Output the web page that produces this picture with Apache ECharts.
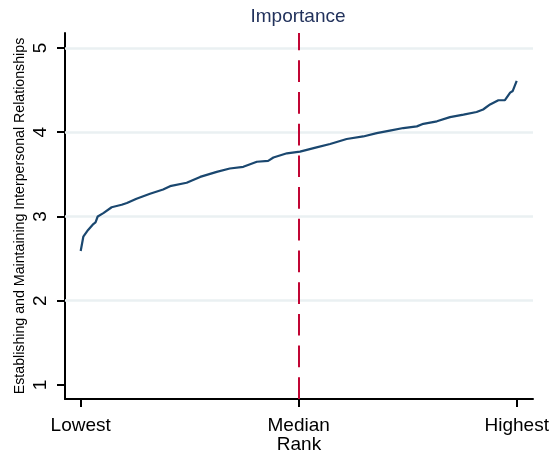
<!DOCTYPE html>
<html>
<head>
<meta charset="utf-8">
<script src="https://cdn.jsdelivr.net/npm/echarts@6/dist/echarts.min.js"></script>
<style>html,body{margin:0;padding:0;background:#fff}#c{width:554px;height:456px}</style>
</head>
<body>
<div id="c"></div>
<script>
// Rank percentile (0 = lowest, 100 = highest) and the sorted importance score
const ranks = [0, 0.6, 1.7, 2.9, 3.4, 3.9, 5.2, 7.1, 9.4, 10.6, 12.8, 15.9, 18.9, 20.5, 24.3, 27.4, 31.2, 34.2, 37.3, 40.4, 43.0, 44.2, 47.3, 50.3, 54.1, 57.2, 61.0, 64.8, 67.9, 70.9, 74.0, 77.1, 78.6, 81.7, 84.7, 87.8, 90.8, 92.3, 93.9, 95.8, 97.3, 98.5, 99.1, 100];
const scores = [2.59, 2.76, 2.84, 2.91, 2.93, 3.00, 3.04, 3.11, 3.14, 3.16, 3.21, 3.27, 3.32, 3.36, 3.40, 3.47, 3.53, 3.57, 3.59, 3.65, 3.66, 3.70, 3.75, 3.77, 3.82, 3.86, 3.92, 3.95, 3.99, 4.02, 4.05, 4.07, 4.10, 4.13, 4.18, 4.21, 4.24, 4.27, 4.33, 4.38, 4.38, 4.47, 4.49, 4.61];
const xTickValues = [0, 50, 100];
const xTickLabels = ['Lowest', 'Median', 'Highest'];
const yTickValues = [1, 2, 3, 4, 5];
const gridValues = [2, 3, 4, 5];
const medianRank = 50;
const titleText = 'Importance';
const yName = 'Establishing and Maintaining Interpersonal Relationships';
const xName = 'Rank';

const font = '"Liberation Sans", Arial, sans-serif';
const chart = echarts.init(document.getElementById('c'), null, {renderer: 'canvas'});
chart.setOption({
  animation: false,
  backgroundColor: '#fff',
  title: {
    text: titleText, left: 298, top: 7, padding: 0, textAlign: 'center',
    textStyle: {fontFamily: font, fontSize: 19, fontWeight: 'normal', color: '#22325c'}
  },
  grid: {left: 65, right: 21, top: 33, bottom: 57, containLabel: false, outerBoundsMode: 'none'},
  xAxis: {
    type: 'value', min: -3.6, max: 103.74,
    name: xName, nameLocation: 'middle', nameGap: 36, nameMoveOverlap: false,
    nameTextStyle: {fontFamily: font, fontSize: 19, color: '#000'},
    axisLine: {show: true, onZero: false, lineStyle: {color: '#000', width: 2}},
    axisTick: {show: true, length: 8, customValues: xTickValues, lineStyle: {color: '#000', width: 2}},
    axisLabel: {
      customValues: xTickValues, margin: 17,
      fontFamily: font, fontSize: 19, color: '#000',
      formatter: v => xTickLabels[xTickValues.indexOf(v)] || ''
    },
    splitLine: {show: false}
  },
  yAxis: {
    type: 'value', min: 0.8338, max: 5.178,
    name: yName, nameLocation: 'middle', nameGap: 38, nameRotate: 90, nameMoveOverlap: false,
    nameTextStyle: {fontFamily: font, fontSize: 14.2, color: '#000'},
    axisLine: {show: true, onZero: false, lineStyle: {color: '#000', width: 2}},
    axisTick: {show: true, length: 8, customValues: yTickValues, lineStyle: {color: '#000', width: 2}},
    axisLabel: {
      customValues: yTickValues, rotate: 90, margin: 15,
      fontFamily: font, fontSize: 19, color: '#000'
    },
    splitLine: {show: false}
  },
  series: [
    {
      type: 'line', data: [], silent: true, z: 1,
      markLine: {
        silent: true, symbol: 'none', label: {show: false}, z: 1,
        lineStyle: {color: '#eaf0f2', width: 2.5, type: 'solid'},
        data: gridValues.map(v => ({yAxis: v}))
      }
    },
    {
      type: 'line', z: 3,
      data: ranks.map((r, i) => [r, scores[i]]),
      showSymbol: false, symbol: 'none',
      lineStyle: {color: '#1a476f', width: 2.2},
      itemStyle: {color: '#1a476f'}
    },
    {
      type: 'line', data: [], silent: true, z: 4,
      markLine: {
        silent: true, symbol: 'none', label: {show: false}, z: 10,
        lineStyle: {color: '#c10534', width: 2, type: [21.7, 10]},
        data: [{xAxis: medianRank}]
      }
    }
  ]
});
</script>
</body>
</html>
